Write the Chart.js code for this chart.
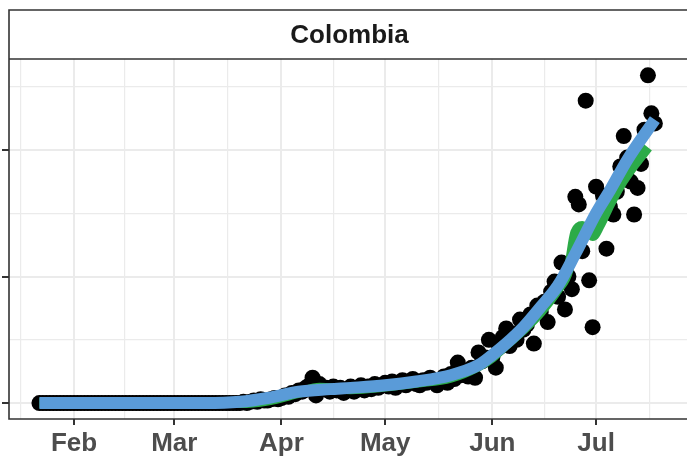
<!DOCTYPE html>
<html>
<head>
<meta charset="utf-8">
<script src="https://cdn.jsdelivr.net/npm/chart.js@4.4.1/dist/chart.umd.min.js"></script>
<style>
  html, body { margin: 0; padding: 0; background: #fff; }
</style>
</head>
<body>
<canvas id="chart" width="687" height="456"></canvas>
<script>
// panel title
const panelTitle = "Colombia";

// x is day of year 2020 (1 Jan = 0); first point is 22 Jan
const firstDay = 21;

// daily values, 22 Jan .. 18 Jul
const daily = [
  // 22 Jan - 20 Mar
  0,0,0,0,0,0,0,0,0,0,
  0,0,0,0,0,0,0,0,0,0,0,0,0,0,0,0,0,0,0,0,0,0,0,0,0,0,0,0,0,
  0,0,0,0,0,0,0,0,0,0,0,0,0,0,0,0,0,0,0,0,
  // 21 - 31 Mar
  1,0,1,2,1,3,2,2,3,4,3,
  // Apr
  4,6,5,8,7,10,9,12,14,20,6,15,11,12,9,13,10,12,8,11,13,9,12,14,10,13,11,15,12,14,
  // May
  16,13,17,12,16,18,14,17,19,15,14,18,16,20,17,14,18,21,16,23,19,32,22,25,21,28,20,40,33,36,50,
  // Jun
  36,28,44,52,59,45,55,50,66,58,62,70,47,77,72,80,64,88,96,84,111,74,100,90,163,157,120,239,97,60,
  // Jul
  171,146,164,122,155,149,167,187,211,194,175,149,170,189,216,259,229,221
];

// smooth trend (blue)
const trendDays   = [21, 69, 79, 87, 96, 105, 111, 121, 130, 140, 148, 152, 156, 161, 166, 171, 176, 182, 186, 191, 199];
const trendValues = [0, 0, 1, 4, 9, 11, 12, 14, 17, 22, 30, 38, 47, 60, 76, 93, 118, 150, 168, 192, 224];

// rolling average (green)
const avgDays   = [21, 79, 87, 96, 102, 111, 121, 130, 140, 148, 152, 156, 161, 166, 171, 174, 176, 178, 181, 183, 186, 189, 193, 197];
const avgValues = [0, 0, 2, 8, 12, 11, 13, 16, 20, 29, 36, 46, 58, 72, 90, 105, 135, 140, 132, 140, 157, 172, 188, 202];

// axes
const monthStarts = [31, 60, 91, 121, 152, 182];
const monthLabels = ["Feb", "Mar", "Apr", "May", "Jun", "Jul"];
const xMinorTicks = [15.5, 45.5, 75.5, 106, 136.5, 167, 197.5];
const yMajorTicks = [0, 100, 200];
const yMinorTicks = [50, 150, 250];

const pointData = daily.map((v, i) => ({ x: firstDay + i, y: v }));
const trendData = trendDays.map((d, i) => ({ x: d, y: trendValues[i] }));
const avgData = avgDays.map((d, i) => ({ x: d, y: avgValues[i] }));

const FONT = "'Liberation Sans', Arial, Helvetica, sans-serif";

// strip + panel border (panel runs off the right edge, so no right side)
const facetPlugin = {
  id: "facet",
  afterDraw(chart) {
    const { ctx, chartArea: a, width } = chart;
    const stripTop = 10;
    const right = width + 5;
    ctx.save();
    ctx.fillStyle = "#ffffff";
    ctx.fillRect(a.left, stripTop, right - a.left, a.top - stripTop);
    ctx.strokeStyle = "#333333";
    ctx.lineWidth = 1.6;
    ctx.beginPath();
    ctx.moveTo(right, stripTop);
    ctx.lineTo(a.left, stripTop);
    ctx.lineTo(a.left, a.bottom);
    ctx.lineTo(right, a.bottom);
    ctx.moveTo(a.left, a.top);
    ctx.lineTo(right, a.top);
    ctx.stroke();
    ctx.fillStyle = "#1a1a1a";
    ctx.font = "bold 26px " + FONT;
    ctx.textAlign = "center";
    ctx.textBaseline = "middle";
    ctx.fillText(panelTitle, (a.left + a.right + 3) / 2, (stripTop + a.top) / 2 + 1);
    ctx.restore();
  }
};

new Chart(document.getElementById("chart"), {
  type: "line",
  data: {
    datasets: [
      {
        label: "trend",
        data: trendData,
        borderColor: "#5a9bd8",
        borderWidth: 12,
        pointRadius: 0,
        cubicInterpolationMode: "monotone",
        fill: false
      },
      {
        label: "average",
        data: avgData,
        borderColor: "#2cab48",
        borderWidth: 10,
        pointRadius: 0,
        cubicInterpolationMode: "monotone",
        fill: false
      },
      {
        label: "daily",
        data: pointData,
        showLine: false,
        pointRadius: 8,
        pointBackgroundColor: "#000000",
        pointBorderWidth: 0
      }
    ]
  },
  options: {
    responsive: false,
    animation: false,
    layout: { autoPadding: false, padding: { top: 59, left: 2, right: 0, bottom: 0 } },
    plugins: {
      legend: { display: false },
      tooltip: { enabled: false }
    },
    scales: {
      x: {
        type: "linear",
        min: 12.2,
        max: 208.3,
        afterBuildTicks: s => {
          s.ticks = monthStarts.concat(xMinorTicks).sort((p, q) => p - q).map(v => ({ value: v }));
        },
        afterFit: s => {
          s.height = 37;
          s.paddingLeft = 0;
          s.paddingRight = 0;
        },
        border: { display: false },
        grid: {
          color: "#ebebeb",
          lineWidth: c => monthStarts.includes(c.tick.value) ? 2 : 1.2,
          tickLength: 6,
          tickWidth: 2,
          tickColor: c => monthStarts.includes(c.tick.value) ? "#333333" : "rgba(0,0,0,0)"
        },
        ticks: {
          autoSkip: false,
          maxRotation: 0,
          padding: 3,
          color: "#4d4d4d",
          font: { family: FONT, size: 26, weight: "bold" },
          callback: v => {
            const i = monthStarts.indexOf(v);
            return i >= 0 ? monthLabels[i] : "";
          }
        }
      },
      y: {
        type: "linear",
        min: -12.6,
        max: 271.9,
        afterBuildTicks: s => {
          s.ticks = yMajorTicks.concat(yMinorTicks).sort((p, q) => p - q).map(v => ({ value: v }));
        },
        afterFit: s => {
          s.width = 7;
          s.paddingTop = 0;
          s.paddingBottom = 0;
        },
        border: { display: false },
        grid: {
          color: "#ebebeb",
          lineWidth: c => yMajorTicks.includes(c.tick.value) ? 2 : 1.2,
          tickLength: 7,
          tickWidth: 2,
          tickColor: c => yMajorTicks.includes(c.tick.value) ? "#333333" : "rgba(0,0,0,0)"
        },
        ticks: { display: false }
      }
    }
  },
  plugins: [facetPlugin]
});
</script>
</body>
</html>
